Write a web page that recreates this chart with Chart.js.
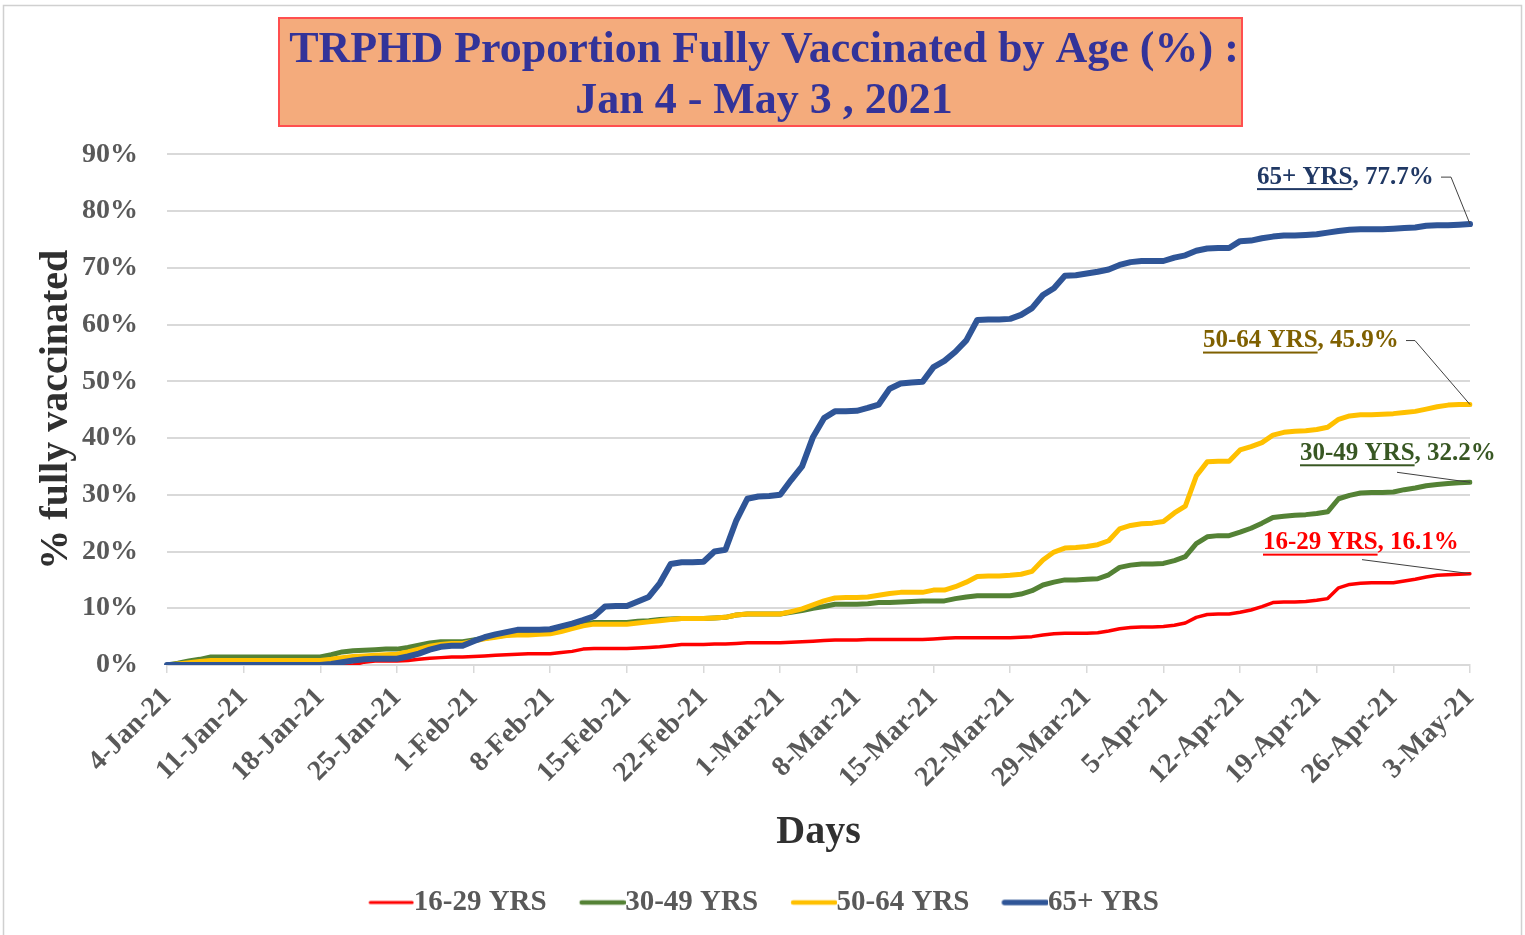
<!DOCTYPE html>
<html>
<head>
<meta charset="utf-8">
<script src="https://cdn.jsdelivr.net/npm/chart.js@4.4.1/dist/chart.umd.min.js"></script>
<style>
html,body{margin:0;padding:0;background:#fff;}
canvas{display:block;}
</style>
</head>
<body>
<canvas id="c" width="1525" height="935"></canvas>
<script>
// ---------- DATA ----------
const days = [
'4-Jan-21','5-Jan-21','6-Jan-21','7-Jan-21','8-Jan-21','9-Jan-21','10-Jan-21','11-Jan-21','12-Jan-21','13-Jan-21','14-Jan-21','15-Jan-21','16-Jan-21','17-Jan-21','18-Jan-21','19-Jan-21','20-Jan-21','21-Jan-21','22-Jan-21','23-Jan-21','24-Jan-21','25-Jan-21','26-Jan-21','27-Jan-21','28-Jan-21','29-Jan-21','30-Jan-21','31-Jan-21',
'1-Feb-21','2-Feb-21','3-Feb-21','4-Feb-21','5-Feb-21','6-Feb-21','7-Feb-21','8-Feb-21','9-Feb-21','10-Feb-21','11-Feb-21','12-Feb-21','13-Feb-21','14-Feb-21','15-Feb-21','16-Feb-21','17-Feb-21','18-Feb-21','19-Feb-21','20-Feb-21','21-Feb-21','22-Feb-21','23-Feb-21','24-Feb-21','25-Feb-21','26-Feb-21','27-Feb-21','28-Feb-21',
'1-Mar-21','2-Mar-21','3-Mar-21','4-Mar-21','5-Mar-21','6-Mar-21','7-Mar-21','8-Mar-21','9-Mar-21','10-Mar-21','11-Mar-21','12-Mar-21','13-Mar-21','14-Mar-21','15-Mar-21','16-Mar-21','17-Mar-21','18-Mar-21','19-Mar-21','20-Mar-21','21-Mar-21','22-Mar-21','23-Mar-21','24-Mar-21','25-Mar-21','26-Mar-21','27-Mar-21','28-Mar-21','29-Mar-21','30-Mar-21','31-Mar-21',
'1-Apr-21','2-Apr-21','3-Apr-21','4-Apr-21','5-Apr-21','6-Apr-21','7-Apr-21','8-Apr-21','9-Apr-21','10-Apr-21','11-Apr-21','12-Apr-21','13-Apr-21','14-Apr-21','15-Apr-21','16-Apr-21','17-Apr-21','18-Apr-21','19-Apr-21','20-Apr-21','21-Apr-21','22-Apr-21','23-Apr-21','24-Apr-21','25-Apr-21','26-Apr-21','27-Apr-21','28-Apr-21','29-Apr-21','30-Apr-21',
'1-May-21','2-May-21','3-May-21'
];

const weekTicks = ['4-Jan-21','11-Jan-21','18-Jan-21','25-Jan-21','1-Feb-21','8-Feb-21','15-Feb-21','22-Feb-21','1-Mar-21','8-Mar-21','15-Mar-21','22-Mar-21','29-Mar-21','5-Apr-21','12-Apr-21','19-Apr-21','26-Apr-21','3-May-21'];

const yTicks = [0,10,20,30,40,50,60,70,80,90];

const seriesNames = ['16-29 YRS','30-49 YRS','50-64 YRS','65+ YRS'];
const finalLabels = ['16.1%','32.2%','45.9%','77.7%'];

const age16to29 = [
0,0,0,0,0, 0,0,0,0,0, 0,0,0,0,0,
0,0,0,0.5,0.7, 0.7,0.7,0.8,1.0,1.2, 1.3,1.4,1.4,1.5,1.6,
1.7,1.8,1.9,2.0,2.0, 2.0,2.2,2.4,2.8,2.9, 2.9,2.9,2.9,3.0,3.1,
3.2,3.4,3.6,3.6,3.6, 3.7,3.7,3.8,3.9,3.9, 3.9,3.9,4.0,4.1,4.2,
4.3,4.4,4.4,4.4,4.5, 4.5,4.5,4.5,4.5,4.5, 4.6,4.7,4.8,4.8,4.8,
4.8,4.8,4.8,4.9,5.0, 5.3,5.5,5.6,5.6,5.6, 5.7,6.0,6.4,6.6,6.7,
6.7,6.8,7.0,7.4,8.4, 8.9,9.0,9.0,9.3,9.7, 10.3,11.0,11.1,11.1,11.2,
11.4,11.7,13.6,14.2,14.4, 14.5,14.5,14.5,14.8,15.1, 15.5,15.8,15.9,16.0,16.1
];

const age30to49 = [
0,0.3,0.7,1.0,1.4, 1.4,1.4,1.4,1.4,1.4, 1.4,1.4,1.4,1.4,1.4,
1.8,2.3,2.5,2.6,2.7, 2.8,2.8,3.1,3.5,3.9, 4.1,4.1,4.1,4.4,4.7,
5.0,5.3,5.5,5.5,5.6, 5.7,6.2,6.7,7.2,7.5, 7.5,7.5,7.5,7.7,7.8,
8.0,8.1,8.2,8.2,8.2, 8.3,8.4,8.8,9.0,9.0, 9.0,9.0,9.3,9.6,10.0,
10.3,10.7,10.7,10.7,10.8, 11.0,11.0,11.1,11.2,11.3, 11.3,11.3,11.7,12.0,12.2,
12.2,12.2,12.2,12.5,13.1, 14.1,14.6,15.0,15.0,15.1, 15.2,15.9,17.2,17.6,17.8,
17.8,17.9,18.4,19.1,21.4, 22.6,22.8,22.8,23.4,24.1, 25.0,26.0,26.2,26.4,26.5,
26.7,27.0,29.3,29.9,30.3, 30.4,30.4,30.5,30.9,31.2, 31.6,31.8,32.0,32.1,32.2
];

const age50to64 = [
0,0.2,0.4,0.6,0.8, 0.8,0.8,0.8,0.8,0.8, 0.8,0.8,0.8,0.8,0.8,
1.0,1.3,1.5,1.6,1.7, 1.8,1.9,2.3,2.8,3.3, 3.6,3.8,3.8,4.2,4.6,
4.9,5.2,5.3,5.3,5.4, 5.5,5.9,6.4,6.9,7.2, 7.2,7.2,7.2,7.4,7.6,
7.8,8.0,8.2,8.2,8.2, 8.3,8.4,8.8,9.0,9.0, 9.0,9.0,9.4,9.9,10.6,
11.3,11.8,11.9,11.9,12.0, 12.3,12.6,12.8,12.8,12.8, 13.2,13.2,13.8,14.6,15.6,
15.7,15.7,15.8,16.0,16.5, 18.5,19.9,20.6,20.7,20.9, 21.2,21.9,24.0,24.6,24.9,
25.0,25.3,26.8,28.0,33.3, 35.8,35.9,35.9,37.9,38.5, 39.2,40.5,41.0,41.2,41.3,
41.5,41.9,43.3,43.9,44.1, 44.1,44.2,44.3,44.5,44.7, 45.1,45.5,45.8,45.9,45.9
];

const age65plus = [
0,0,0,0,0, 0,0,0,0,0, 0,0,0,0,0,
0.2,0.5,0.8,1.0,1.1, 1.1,1.1,1.5,2.0,2.7, 3.2,3.4,3.4,4.2,4.9,
5.4,5.8,6.2,6.2,6.2, 6.3,6.8,7.3,7.9,8.6, 10.3,10.4,10.4,11.2,12.0,
14.4,17.8,18.1,18.1,18.2, 20.0,20.3,25.5,29.3,29.7, 29.8,30.0,32.6,35.0,40.2,
43.5,44.7,44.7,44.8,45.3, 45.9,48.7,49.6,49.8,49.9, 52.5,53.6,55.2,57.2,60.8,
60.9,60.9,61.0,61.7,62.9, 65.2,66.4,68.6,68.7,69.0, 69.3,69.7,70.5,71.0,71.2,
71.2,71.2,71.8,72.2,73.0, 73.4,73.5,73.5,74.7,74.8, 75.2,75.5,75.7,75.7,75.8,
75.9,76.2,76.5,76.7,76.8, 76.8,76.8,76.9,77.0,77.1, 77.4,77.5,77.5,77.6,77.7
];

// ---------- STYLE ----------
const FONT = "'Liberation Serif', 'Times New Roman', serif";
const colors = ['#FF0000', '#548235', '#FFC000', '#2F5597'];
const lineWidths = [3.5, 5, 5, 6];
const drawOrder = [3, 2, 1, 0]; // blue on top

function makeSwatch(color, lw) {
  const c = document.createElement('canvas');
  c.width = 60; c.height = 10;
  const g = c.getContext('2d');
  g.strokeStyle = color; g.lineWidth = lw; g.lineCap = 'round';
  g.beginPath(); g.moveTo(16, 5); g.lineTo(58, 5); g.stroke();
  return c;
}

const framePlugin = {
  id: 'frameBox',
  beforeDraw(chart) {
    const ctx = chart.ctx;
    ctx.save();
    ctx.fillStyle = '#ffffff';
    ctx.fillRect(0, 0, chart.width, chart.height);
    ctx.strokeStyle = '#D0D0D0';
    ctx.lineWidth = 1.5;
    ctx.strokeRect(3.5, 5.5, chart.width - 7, chart.height + 10);
    ctx.fillStyle = '#F4AB7C';
    ctx.fillRect(279, 18, 963, 108);
    ctx.strokeStyle = '#FF4F4F';
    ctx.lineWidth = 2;
    ctx.strokeRect(279, 18, 963, 108);
    ctx.restore();
  }
};

const endLabelPlugin = {
  id: 'endLabels',
  afterDatasetsDraw(chart, args, opts) {
    const ctx = chart.ctx;
    ctx.save();
    opts.items.forEach(item => {
      const meta = chart.getDatasetMeta(item.dataset);
      const pt = meta.data[meta.data.length - 1];
      const ex = pt.x, ey = pt.y;
      ctx.strokeStyle = '#404040';
      ctx.lineWidth = 1;
      ctx.beginPath();
      item.leader.forEach((p, i) => {
        if (i === 0) ctx.moveTo(ex + p[0], ey + p[1]);
        else ctx.lineTo(ex + p[0], ey + p[1]);
      });
      ctx.lineTo(ex, ey);
      ctx.stroke();
      ctx.font = "bold 25px " + FONT;
      ctx.textBaseline = 'middle';
      ctx.textAlign = 'left';
      ctx.fillStyle = item.color;
      const name = seriesNames[item.dataset];
      const rest = ', ' + finalLabels[item.dataset];
      const tx = ex + item.dx, ty = ey + item.dy;
      ctx.fillText(name, tx, ty);
      const nw = ctx.measureText(name).width;
      ctx.fillText(rest, tx + nw, ty);
      ctx.fillRect(tx, ty + 11, nw, 2);
    });
    ctx.restore();
  }
};

function build() {
  const series = [age16to29, age30to49, age50to64, age65plus];
  const datasets = series.map((vals, i) => ({
    label: seriesNames[i],
    data: vals,
    borderColor: colors[i],
    backgroundColor: colors[i],
    borderWidth: lineWidths[i],
    pointRadius: 0,
    pointHoverRadius: 0,
    pointStyle: makeSwatch(colors[i], lineWidths[i] - 0.5),
    tension: 0,
    borderJoinStyle: 'round',
    borderCapStyle: 'round',
    fill: false,
    order: drawOrder[i]
  }));

  new Chart(document.getElementById('c'), {
    type: 'line',
    data: { labels: days, datasets },
    options: {
      responsive: false,
      animation: false,
      devicePixelRatio: 1,
      layout: { padding: { left: 58, right: 55, top: 0, bottom: 8 } },
      plugins: {
        title: {
          display: true,
          text: ['TRPHD Proportion Fully Vaccinated by Age (%) :', 'Jan 4 - May 3 , 2021'],
          color: '#333399',
          font: { family: FONT, size: 44, weight: 'bold', lineHeight: 1.14 },
          padding: { top: 26, bottom: 28 }
        },
        legend: {
          position: 'bottom',
          labels: {
            usePointStyle: true,
            pointStyleWidth: 30,
            boxHeight: 29,
            padding: 34,
            color: '#595959',
            font: { family: FONT, size: 29, weight: 'bold' },
            sort: (a, b) => a.datasetIndex - b.datasetIndex
          }
        },
        tooltip: { enabled: false },
        endLabels: {
          items: [
            { dataset: 3, color: '#203864', dx: -213, dy: -47, leader: [[-29, -47], [-19, -47]] },
            { dataset: 2, color: '#7F6000', dx: -267, dy: -64, leader: [[-64, -64], [-55, -64]] },
            { dataset: 1, color: '#385723', dx: -170, dy: -29, leader: [[-73, -10]] },
            { dataset: 0, color: '#FF0000', dx: -207, dy: -31, leader: [[-108, -14]] }
          ]
        }
      },
      scales: {
        x: {
          type: 'category',
          afterBuildTicks: axis => {
            axis.ticks = axis.ticks.filter(t => weekTicks.includes(days[t.value]));
          },
          afterFit: scale => { scale.height = 189; },
          ticks: {
            autoSkip: false,
            maxRotation: 45,
            minRotation: 45,
            color: '#595959',
            padding: 8,
            font: { family: FONT, size: 28, weight: 'bold' },
            callback: function (v) { return days[v]; }
          },
          grid: {
            drawOnChartArea: false,
            drawTicks: true,
            tickLength: 8,
            color: '#D9D9D9',
            lineWidth: 1.5
          },
          border: { display: true, color: '#D9D9D9', width: 2 },
          title: {
            display: true,
            text: 'Days',
            color: '#303030',
            font: { family: FONT, size: 40, weight: 'bold' },
            padding: { top: 0, bottom: -3 }
          }
        },
        y: {
          min: 0,
          max: 90,
          afterBuildTicks: axis => { axis.ticks = yTicks.map(v => ({ value: v })); },
          afterFit: scale => { scale.width = 109; },
          ticks: {
            color: '#595959',
            padding: 29,
            font: { family: FONT, size: 28, weight: 'bold' },
            callback: v => v + '%'
          },
          grid: { color: '#D9D9D9', lineWidth: 2, drawTicks: false },
          border: { display: false },
          title: {
            display: true,
            text: '% fully vaccinated',
            color: '#303030',
            font: { family: FONT, size: 40, weight: 'bold' },
            padding: { top: -25, bottom: 0 }
          }
        }
      }
    },
    plugins: [framePlugin, endLabelPlugin]
  });
}

if (document.fonts && document.fonts.load) {
  Promise.all([
    document.fonts.load("bold 20px 'Liberation Serif'")
  ]).then(build, build);
} else {
  build();
}
</script>
</body>
</html>
